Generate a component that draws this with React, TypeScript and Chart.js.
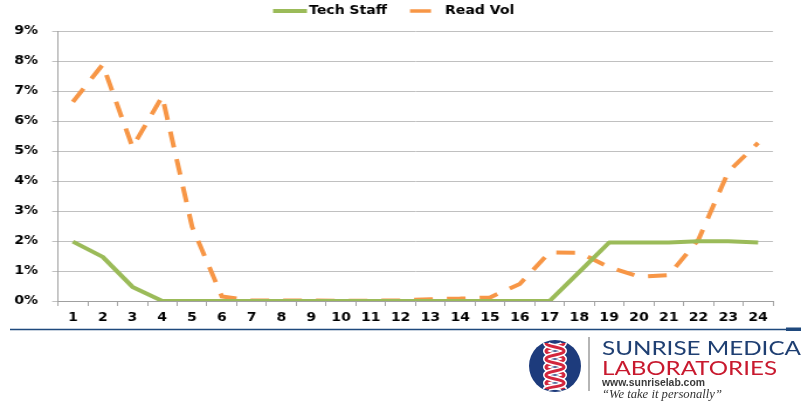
import React, { useEffect, useRef } from "react";
import { Chart, registerables } from "chart.js";

Chart.register(...registerables);

// ---- data ----
const hours = ["1", "2", "3", "4", "5", "6", "7", "8", "9", "10", "11", "12", "13", "14", "15", "16", "17", "18", "19", "20", "21", "22", "23", "24"];
const techStaff = [1.98, 1.47, 0.47, 0, 0, 0, 0, 0, 0, 0, 0, 0, 0, 0, 0, 0, 0, 0.97, 1.95, 1.95, 1.95, 1.99, 1.99, 1.95];
const readVol = [6.64, 7.88, 5.13, 6.82, 2.48, 0.15, 0.02, 0.02, 0.02, 0.01, 0.01, 0.02, 0.06, 0.08, 0.12, 0.57, 1.62, 1.61, 1.13, 0.81, 0.86, 2.05, 4.31, 5.27];
const yTickValues = [0, 1, 2, 3, 4, 5, 6, 7, 8, 9];
const seriesNames = ["Tech Staff", "Read Vol"];

// ---- layout (canvas drawn narrower, then stretched horizontally) ----
const PAGE_W = 801;
const CANVAS_W = 685;
const CANVAS_H = 330;
const SX = PAGE_W / CANVAS_W;
const FONT = '"DejaVu Sans", Verdana, sans-serif';

const legendPlugin = {
  id: "customLegend",
  afterDraw(chart: any) {
    const ctx = chart.ctx;
    const ds = chart.data.datasets;
    const y = 11;
    ctx.save();
    ctx.font = `bold 12px ${FONT}`;
    ctx.textBaseline = "middle";
    ctx.textAlign = "left";
    // Tech Staff
    ctx.strokeStyle = ds[0].borderColor;
    ctx.lineWidth = 4;
    ctx.setLineDash([]);
    ctx.beginPath();
    ctx.moveTo(233.5, y);
    ctx.lineTo(262.5, y);
    ctx.stroke();
    ctx.fillStyle = "#000";
    ctx.fillText(ds[0].label, 264.3, y);
    // Read Vol
    ctx.strokeStyle = ds[1].borderColor;
    ctx.lineWidth = 3.5;
    ctx.beginPath();
    ctx.moveTo(350.6, y);
    ctx.lineTo(368.6, y);
    ctx.stroke();
    ctx.fillText(ds[1].label, 380.6, y);
    ctx.restore();
  },
};

function Logo() {
  const helixA =
    "M546 343 C546 347,564 347,564 351 C564 355,546 355,546 359 C546 363,564 363,564 367 C564 371,546 371,546 375 C546 379,564 379,564 383 C564 387,546 387,546 389";
  const helixB =
    "M564 343 C564 347,546 347,546 351 C546 355,564 355,564 359 C564 363,546 363,546 367 C546 371,564 371,564 375 C564 379,546 379,546 383 C546 387,564 387,564 389";
  return (
    <svg
      width={PAGE_W}
      height={410}
      style={{ position: "absolute", left: 0, top: 0, pointerEvents: "none" }}
    >
      <line x1={10} y1={329.5} x2={786} y2={329.5} stroke="#1f497d" strokeWidth={1.5} />
      <rect x={786} y={327.5} width={15} height={3.5} fill="#1f497d" />
      <circle cx={555} cy={366} r={26} fill="#1d3b7c" />
      <path d={helixB} fill="none" stroke="#ffffff" strokeWidth={6} />
      <path d={helixB} fill="none" stroke="#d3263d" strokeWidth={3} />
      <path d={helixA} fill="none" stroke="#ffffff" strokeWidth={6} />
      <path d={helixA} fill="none" stroke="#d3263d" strokeWidth={3} />
      <line x1={589} y1={337} x2={589} y2={391} stroke="#b5b5b5" strokeWidth={2} />
      <text
        x={602}
        y={355}
        fontFamily="Lato, 'Open Sans', sans-serif"
        fontSize={18.5}
        fill="#1f3f72"
        textLength={199}
        lengthAdjust="spacingAndGlyphs"
      >
        SUNRISE MEDICA
      </text>
      <text
        x={602}
        y={375}
        fontFamily="Lato, 'Open Sans', sans-serif"
        fontSize={18.5}
        fill="#c8192e"
        textLength={175}
        lengthAdjust="spacingAndGlyphs"
      >
        LABORATORIES
      </text>
      <text
        x={602}
        y={386}
        fontFamily="'Liberation Sans', Arial, sans-serif"
        fontWeight="bold"
        fontSize={10}
        fill="#3a3a3a"
        textLength={103}
        lengthAdjust="spacingAndGlyphs"
      >
        www.sunriselab.com
      </text>
      <text
        x={602}
        y={398}
        fontFamily="'Liberation Serif', 'Times New Roman', serif"
        fontStyle="italic"
        fontSize={12}
        fill="#333333"
        textLength={120}
        lengthAdjust="spacingAndGlyphs"
      >
        “We take it personally”
      </text>
    </svg>
  );
}

export default function App() {
  const canvasRef = useRef<HTMLCanvasElement | null>(null);

  useEffect(() => {
    if (!canvasRef.current) return;
    const tickFont = { family: FONT, size: 12, weight: "bold" as const };
    const chart = new Chart(canvasRef.current, {
      type: "line",
      data: {
        labels: hours,
        datasets: [
          {
            label: seriesNames[0],
            data: techStaff,
            borderColor: "#9bbb59",
            backgroundColor: "#9bbb59",
            borderWidth: 4,
            pointRadius: 0,
            tension: 0,
            borderJoinStyle: "round",
          },
          {
            label: seriesNames[1],
            data: readVol,
            borderColor: "#f79646",
            backgroundColor: "#f79646",
            borderWidth: 4,
            borderDash: [16, 12],
            pointRadius: 0,
            tension: 0,
          },
        ],
      },
      options: {
        responsive: false,
        animation: false,
        devicePixelRatio: 1,
        layout: { padding: { top: 31, right: CANVAS_W - 773 / SX, bottom: 0, left: 0 } },
        plugins: { legend: { display: false }, tooltip: { enabled: false } },
        scales: {
          x: {
            offset: true,
            grid: {
              offset: true,
              drawOnChartArea: false,
              drawTicks: true,
              tickLength: 5,
              color: "#a6a6a6",
            },
            border: { color: "#a0a0a0", width: 1 },
            ticks: { font: tickFont, color: "#000", padding: 5, autoSkip: false, maxRotation: 0 },
            afterFit: (s: any) => {
              s.height = 29;
            },
          },
          y: {
            min: 0,
            max: 9,
            afterBuildTicks: (s: any) => {
              s.ticks = yTickValues.map((v) => ({ value: v }));
            },
            grid: { color: "#c0c0c0", tickLength: 5, lineWidth: 1 },
            border: { color: "#a0a0a0", width: 1 },
            ticks: {
              font: tickFont,
              color: "#000",
              padding: 12,
              callback: (v: any) => `${v}%`,
            },
            afterFit: (s: any) => {
              s.width = 58 / SX;
            },
          },
        },
      },
      plugins: [legendPlugin],
    });
    return () => chart.destroy();
  }, []);

  return (
    <div
      style={{
        position: "absolute",
        left: 0,
        top: 0,
        width: PAGE_W,
        height: 410,
        background: "#fff",
        overflow: "hidden",
      }}
    >
      <div
        style={{
          position: "absolute",
          left: 0,
          top: 0,
          width: CANVAS_W,
          height: CANVAS_H,
          transform: `scaleX(${SX})`,
          transformOrigin: "0 0",
        }}
      >
        <canvas
          ref={canvasRef}
          width={CANVAS_W}
          height={CANVAS_H}
          style={{ width: CANVAS_W, height: CANVAS_H, display: "block" }}
        />
      </div>
      <Logo />
    </div>
  );
}
